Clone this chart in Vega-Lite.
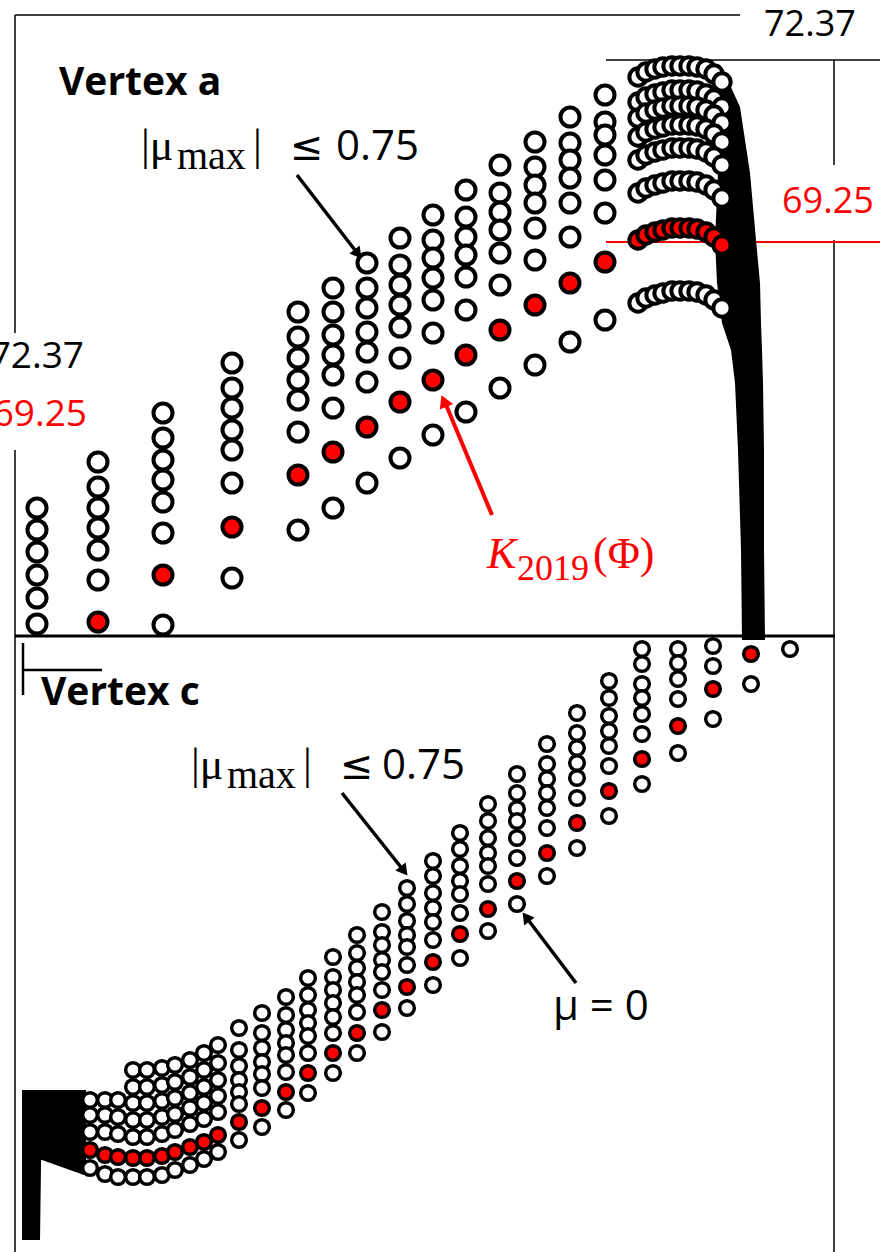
{
  "$schema": "https://vega.github.io/schema/vega-lite/v6.json",
  "width": 890,
  "height": 1252,
  "autosize": {"type": "none"},
  "padding": 0,
  "background": "white",
  "config": {"view": {"stroke": null}, "font": "Open Sans"},
  "datasets": {
    "lines": [
      {"x": 15, "y": 15, "x2": 740, "y2": 15, "kind": "frame"},
      {"x": 15, "y": 15, "x2": 15, "y2": 333, "kind": "frame"},
      {"x": 15, "y": 450, "x2": 15, "y2": 1252, "kind": "frame"},
      {"x": 834, "y": 60, "x2": 834, "y2": 165, "kind": "frame"},
      {"x": 834, "y": 240, "x2": 834, "y2": 1252, "kind": "frame"},
      {"x": 606, "y": 60, "x2": 880, "y2": 60, "kind": "frame"},
      {"x": 15, "y": 636, "x2": 835, "y2": 636, "kind": "thick"},
      {"x": 23, "y": 643, "x2": 23, "y2": 695, "kind": "marker"},
      {"x": 23, "y": 670, "x2": 102, "y2": 670, "kind": "marker"},
      {"x": 606, "y": 242, "x2": 880, "y2": 242, "kind": "red"}
    ],
    "blobs": [
      {"part": "column", "y": 85, "x": 722, "x2": 730},
      {"part": "column", "y": 107, "x": 724, "x2": 740},
      {"part": "column", "y": 173, "x": 718, "x2": 750},
      {"part": "column", "y": 240, "x": 715, "x2": 756},
      {"part": "column", "y": 283, "x": 717, "x2": 760},
      {"part": "column", "y": 323, "x": 722, "x2": 761},
      {"part": "column", "y": 350, "x": 731, "x2": 762},
      {"part": "column", "y": 383, "x": 735, "x2": 763},
      {"part": "column", "y": 450, "x": 738, "x2": 764},
      {"part": "column", "y": 550, "x": 741, "x2": 764},
      {"part": "column", "y": 640, "x": 742, "x2": 765},
      {"part": "block", "y": 1090, "x": 22, "x2": 86},
      {"part": "block", "y": 1156, "x": 22, "x2": 86},
      {"part": "block", "y": 1160, "x": 42, "x2": 86},
      {"part": "block", "y": 1175, "x": 84, "x2": 86},
      {"part": "stem", "y": 1090, "x": 22, "x2": 42},
      {"part": "stem", "y": 1240, "x": 22, "x2": 40}
    ],
    "top": [
      {"x": 37, "y": 508, "k": "open"}, {"x": 37, "y": 530, "k": "open"}, {"x": 37, "y": 552, "k": "open"}, {"x": 37, "y": 575, "k": "open"}, {"x": 37, "y": 598, "k": "open"}, {"x": 37, "y": 624, "k": "open"},
      {"x": 98, "y": 462, "k": "open"}, {"x": 98, "y": 487, "k": "open"}, {"x": 98, "y": 508, "k": "open"}, {"x": 98, "y": 528, "k": "open"}, {"x": 98, "y": 550, "k": "open"}, {"x": 98, "y": 580, "k": "open"}, {"x": 98, "y": 622, "k": "K2019"},
      {"x": 163, "y": 413, "k": "open"}, {"x": 163, "y": 438, "k": "open"}, {"x": 163, "y": 460, "k": "open"}, {"x": 163, "y": 480, "k": "open"}, {"x": 163, "y": 502, "k": "open"}, {"x": 163, "y": 533, "k": "open"}, {"x": 163, "y": 575, "k": "K2019"}, {"x": 163, "y": 625, "k": "open"},
      {"x": 232, "y": 363, "k": "open"}, {"x": 232, "y": 388, "k": "open"}, {"x": 232, "y": 408, "k": "open"}, {"x": 232, "y": 430, "k": "open"}, {"x": 232, "y": 450, "k": "open"}, {"x": 232, "y": 483, "k": "open"}, {"x": 232, "y": 527, "k": "K2019"}, {"x": 232, "y": 578, "k": "open"},
      {"x": 298, "y": 312, "k": "open"}, {"x": 298, "y": 337, "k": "open"}, {"x": 298, "y": 358, "k": "open"}, {"x": 298, "y": 380, "k": "open"}, {"x": 298, "y": 400, "k": "open"}, {"x": 298, "y": 432, "k": "open"}, {"x": 298, "y": 475, "k": "K2019"}, {"x": 298, "y": 530, "k": "open"},
      {"x": 333, "y": 288, "k": "open"}, {"x": 333, "y": 312, "k": "open"}, {"x": 333, "y": 335, "k": "open"}, {"x": 333, "y": 355, "k": "open"}, {"x": 333, "y": 375, "k": "open"}, {"x": 333, "y": 408, "k": "open"}, {"x": 333, "y": 452, "k": "K2019"}, {"x": 333, "y": 508, "k": "open"},
      {"x": 367, "y": 263, "k": "open"}, {"x": 367, "y": 288, "k": "open"}, {"x": 367, "y": 308, "k": "open"}, {"x": 367, "y": 332, "k": "open"}, {"x": 367, "y": 352, "k": "open"}, {"x": 367, "y": 382, "k": "open"}, {"x": 367, "y": 427, "k": "K2019"}, {"x": 367, "y": 483, "k": "open"},
      {"x": 400, "y": 238, "k": "open"}, {"x": 400, "y": 265, "k": "open"}, {"x": 400, "y": 285, "k": "open"}, {"x": 400, "y": 305, "k": "open"}, {"x": 400, "y": 327, "k": "open"}, {"x": 400, "y": 358, "k": "open"}, {"x": 400, "y": 402, "k": "K2019"}, {"x": 400, "y": 458, "k": "open"},
      {"x": 433, "y": 215, "k": "open"}, {"x": 433, "y": 240, "k": "open"}, {"x": 433, "y": 258, "k": "open"}, {"x": 433, "y": 278, "k": "open"}, {"x": 433, "y": 300, "k": "open"}, {"x": 433, "y": 333, "k": "open"}, {"x": 433, "y": 380, "k": "K2019"}, {"x": 433, "y": 435, "k": "open"},
      {"x": 466, "y": 190, "k": "open"}, {"x": 466, "y": 217, "k": "open"}, {"x": 466, "y": 237, "k": "open"}, {"x": 466, "y": 255, "k": "open"}, {"x": 466, "y": 277, "k": "open"}, {"x": 466, "y": 310, "k": "open"}, {"x": 466, "y": 355, "k": "K2019"}, {"x": 466, "y": 412, "k": "open"},
      {"x": 500, "y": 165, "k": "open"}, {"x": 500, "y": 193, "k": "open"}, {"x": 500, "y": 212, "k": "open"}, {"x": 500, "y": 230, "k": "open"}, {"x": 500, "y": 253, "k": "open"}, {"x": 500, "y": 285, "k": "open"}, {"x": 500, "y": 330, "k": "K2019"}, {"x": 500, "y": 388, "k": "open"},
      {"x": 535, "y": 142, "k": "open"}, {"x": 535, "y": 167, "k": "open"}, {"x": 535, "y": 185, "k": "open"}, {"x": 535, "y": 203, "k": "open"}, {"x": 535, "y": 228, "k": "open"}, {"x": 535, "y": 260, "k": "open"}, {"x": 535, "y": 305, "k": "K2019"}, {"x": 535, "y": 365, "k": "open"},
      {"x": 570, "y": 117, "k": "open"}, {"x": 570, "y": 143, "k": "open"}, {"x": 570, "y": 160, "k": "open"}, {"x": 570, "y": 178, "k": "open"}, {"x": 570, "y": 203, "k": "open"}, {"x": 570, "y": 237, "k": "open"}, {"x": 570, "y": 283, "k": "K2019"}, {"x": 570, "y": 342, "k": "open"},
      {"x": 605, "y": 95, "k": "open"}, {"x": 605, "y": 122, "k": "open"}, {"x": 605, "y": 135, "k": "open"}, {"x": 605, "y": 155, "k": "open"}, {"x": 605, "y": 180, "k": "open"}, {"x": 605, "y": 213, "k": "open"}, {"x": 605, "y": 262, "k": "K2019"}, {"x": 605, "y": 320, "k": "open"}
    ],
    "arcs": [
      {"x": 638, "y": 77, "k": "open"}, {"x": 646, "y": 72, "k": "open"}, {"x": 655, "y": 69, "k": "open"}, {"x": 663, "y": 67, "k": "open"}, {"x": 672, "y": 66, "k": "open"}, {"x": 680, "y": 66, "k": "open"}, {"x": 689, "y": 66, "k": "open"}, {"x": 697, "y": 67, "k": "open"}, {"x": 706, "y": 69, "k": "open"}, {"x": 714, "y": 74, "k": "open"}, {"x": 722, "y": 82, "k": "open"},
      {"x": 638, "y": 102, "k": "open"}, {"x": 646, "y": 97, "k": "open"}, {"x": 655, "y": 94, "k": "open"}, {"x": 663, "y": 92, "k": "open"}, {"x": 672, "y": 90, "k": "open"}, {"x": 680, "y": 90, "k": "open"}, {"x": 689, "y": 90, "k": "open"}, {"x": 697, "y": 91, "k": "open"}, {"x": 706, "y": 94, "k": "open"}, {"x": 714, "y": 99, "k": "open"}, {"x": 722, "y": 107, "k": "open"},
      {"x": 638, "y": 118, "k": "open"}, {"x": 646, "y": 113, "k": "open"}, {"x": 655, "y": 110, "k": "open"}, {"x": 663, "y": 108, "k": "open"}, {"x": 672, "y": 106, "k": "open"}, {"x": 680, "y": 106, "k": "open"}, {"x": 689, "y": 106, "k": "open"}, {"x": 697, "y": 107, "k": "open"}, {"x": 706, "y": 110, "k": "open"}, {"x": 714, "y": 115, "k": "open"}, {"x": 722, "y": 123, "k": "open"},
      {"x": 638, "y": 137, "k": "open"}, {"x": 646, "y": 132, "k": "open"}, {"x": 655, "y": 129, "k": "open"}, {"x": 663, "y": 127, "k": "open"}, {"x": 672, "y": 125, "k": "open"}, {"x": 680, "y": 125, "k": "open"}, {"x": 689, "y": 125, "k": "open"}, {"x": 697, "y": 126, "k": "open"}, {"x": 706, "y": 129, "k": "open"}, {"x": 714, "y": 134, "k": "open"}, {"x": 722, "y": 142, "k": "open"},
      {"x": 638, "y": 160, "k": "open"}, {"x": 646, "y": 155, "k": "open"}, {"x": 655, "y": 152, "k": "open"}, {"x": 663, "y": 150, "k": "open"}, {"x": 672, "y": 148, "k": "open"}, {"x": 680, "y": 148, "k": "open"}, {"x": 689, "y": 148, "k": "open"}, {"x": 697, "y": 149, "k": "open"}, {"x": 706, "y": 152, "k": "open"}, {"x": 714, "y": 157, "k": "open"}, {"x": 722, "y": 165, "k": "open"},
      {"x": 638, "y": 193, "k": "open"}, {"x": 646, "y": 188, "k": "open"}, {"x": 655, "y": 185, "k": "open"}, {"x": 663, "y": 183, "k": "open"}, {"x": 672, "y": 181, "k": "open"}, {"x": 680, "y": 181, "k": "open"}, {"x": 689, "y": 181, "k": "open"}, {"x": 697, "y": 182, "k": "open"}, {"x": 706, "y": 185, "k": "open"}, {"x": 714, "y": 190, "k": "open"}, {"x": 722, "y": 198, "k": "open"},
      {"x": 638, "y": 240, "k": "K2019"}, {"x": 646, "y": 235, "k": "K2019"}, {"x": 655, "y": 232, "k": "K2019"}, {"x": 663, "y": 230, "k": "K2019"}, {"x": 672, "y": 228, "k": "K2019"}, {"x": 680, "y": 228, "k": "K2019"}, {"x": 689, "y": 228, "k": "K2019"}, {"x": 697, "y": 229, "k": "K2019"}, {"x": 706, "y": 232, "k": "K2019"}, {"x": 714, "y": 237, "k": "K2019"}, {"x": 722, "y": 245, "k": "K2019"},
      {"x": 638, "y": 303, "k": "open"}, {"x": 646, "y": 298, "k": "open"}, {"x": 655, "y": 295, "k": "open"}, {"x": 663, "y": 293, "k": "open"}, {"x": 672, "y": 291, "k": "open"}, {"x": 680, "y": 291, "k": "open"}, {"x": 689, "y": 291, "k": "open"}, {"x": 697, "y": 292, "k": "open"}, {"x": 706, "y": 295, "k": "open"}, {"x": 714, "y": 300, "k": "open"}, {"x": 722, "y": 308, "k": "open"}
    ],
    "bottom": [
      {"x": 90, "y": 1100, "k": "open"}, {"x": 90, "y": 1115, "k": "open"}, {"x": 90, "y": 1132, "k": "open"}, {"x": 90, "y": 1150, "k": "K2019"}, {"x": 90, "y": 1168, "k": "open"},
      {"x": 105, "y": 1100, "k": "open"}, {"x": 105, "y": 1115, "k": "open"}, {"x": 105, "y": 1132, "k": "open"}, {"x": 105, "y": 1155, "k": "K2019"}, {"x": 105, "y": 1174, "k": "open"},
      {"x": 118, "y": 1100, "k": "open"}, {"x": 118, "y": 1117, "k": "open"}, {"x": 118, "y": 1134, "k": "open"}, {"x": 118, "y": 1157, "k": "K2019"}, {"x": 118, "y": 1177, "k": "open"},
      {"x": 133, "y": 1070, "k": "open"}, {"x": 133, "y": 1087, "k": "open"}, {"x": 133, "y": 1103, "k": "open"}, {"x": 133, "y": 1120, "k": "open"}, {"x": 133, "y": 1137, "k": "open"}, {"x": 133, "y": 1158, "k": "K2019"}, {"x": 133, "y": 1177, "k": "open"},
      {"x": 147, "y": 1070, "k": "open"}, {"x": 147, "y": 1087, "k": "open"}, {"x": 147, "y": 1103, "k": "open"}, {"x": 147, "y": 1120, "k": "open"}, {"x": 147, "y": 1137, "k": "open"}, {"x": 147, "y": 1158, "k": "K2019"}, {"x": 147, "y": 1177, "k": "open"},
      {"x": 162, "y": 1068, "k": "open"}, {"x": 162, "y": 1085, "k": "open"}, {"x": 162, "y": 1101, "k": "open"}, {"x": 162, "y": 1117, "k": "open"}, {"x": 162, "y": 1134, "k": "open"}, {"x": 162, "y": 1156, "k": "K2019"}, {"x": 162, "y": 1175, "k": "open"},
      {"x": 175, "y": 1065, "k": "open"}, {"x": 175, "y": 1082, "k": "open"}, {"x": 175, "y": 1098, "k": "open"}, {"x": 175, "y": 1114, "k": "open"}, {"x": 175, "y": 1130, "k": "open"}, {"x": 175, "y": 1152, "k": "K2019"}, {"x": 175, "y": 1170, "k": "open"},
      {"x": 190, "y": 1060, "k": "open"}, {"x": 190, "y": 1077, "k": "open"}, {"x": 190, "y": 1093, "k": "open"}, {"x": 190, "y": 1108, "k": "open"}, {"x": 190, "y": 1124, "k": "open"}, {"x": 190, "y": 1147, "k": "K2019"}, {"x": 190, "y": 1165, "k": "open"},
      {"x": 204, "y": 1053, "k": "open"}, {"x": 204, "y": 1070, "k": "open"}, {"x": 204, "y": 1087, "k": "open"}, {"x": 204, "y": 1103, "k": "open"}, {"x": 204, "y": 1119, "k": "open"}, {"x": 204, "y": 1142, "k": "K2019"}, {"x": 204, "y": 1159, "k": "open"},
      {"x": 218, "y": 1045, "k": "open"}, {"x": 218, "y": 1063, "k": "open"}, {"x": 218, "y": 1080, "k": "open"}, {"x": 218, "y": 1096, "k": "open"}, {"x": 218, "y": 1112, "k": "open"}, {"x": 218, "y": 1135, "k": "K2019"}, {"x": 218, "y": 1152, "k": "open"},
      {"x": 239, "y": 1028, "k": "open"}, {"x": 239, "y": 1050, "k": "open"}, {"x": 239, "y": 1066, "k": "open"}, {"x": 239, "y": 1080, "k": "open"}, {"x": 239, "y": 1092, "k": "open"}, {"x": 239, "y": 1104, "k": "open"}, {"x": 239, "y": 1122, "k": "K2019"}, {"x": 239, "y": 1140, "k": "open"},
      {"x": 262, "y": 1013, "k": "open"}, {"x": 262, "y": 1033, "k": "open"}, {"x": 262, "y": 1048, "k": "open"}, {"x": 262, "y": 1062, "k": "open"}, {"x": 262, "y": 1074, "k": "open"}, {"x": 262, "y": 1088, "k": "open"}, {"x": 262, "y": 1108, "k": "K2019"}, {"x": 262, "y": 1127, "k": "open"},
      {"x": 286, "y": 997, "k": "open"}, {"x": 286, "y": 1015, "k": "open"}, {"x": 286, "y": 1030, "k": "open"}, {"x": 286, "y": 1043, "k": "open"}, {"x": 286, "y": 1055, "k": "open"}, {"x": 286, "y": 1072, "k": "open"}, {"x": 286, "y": 1092, "k": "K2019"}, {"x": 286, "y": 1110, "k": "open"},
      {"x": 308, "y": 978, "k": "open"}, {"x": 308, "y": 995, "k": "open"}, {"x": 308, "y": 1010, "k": "open"}, {"x": 308, "y": 1023, "k": "open"}, {"x": 308, "y": 1036, "k": "open"}, {"x": 308, "y": 1053, "k": "open"}, {"x": 308, "y": 1073, "k": "K2019"}, {"x": 308, "y": 1093, "k": "open"},
      {"x": 333, "y": 957, "k": "open"}, {"x": 333, "y": 977, "k": "open"}, {"x": 333, "y": 990, "k": "open"}, {"x": 333, "y": 1003, "k": "open"}, {"x": 333, "y": 1017, "k": "open"}, {"x": 333, "y": 1033, "k": "open"}, {"x": 333, "y": 1053, "k": "K2019"}, {"x": 333, "y": 1073, "k": "open"},
      {"x": 357, "y": 935, "k": "open"}, {"x": 357, "y": 953, "k": "open"}, {"x": 357, "y": 968, "k": "open"}, {"x": 357, "y": 982, "k": "open"}, {"x": 357, "y": 995, "k": "open"}, {"x": 357, "y": 1012, "k": "open"}, {"x": 357, "y": 1033, "k": "K2019"}, {"x": 357, "y": 1053, "k": "open"},
      {"x": 382, "y": 912, "k": "open"}, {"x": 382, "y": 932, "k": "open"}, {"x": 382, "y": 945, "k": "open"}, {"x": 382, "y": 960, "k": "open"}, {"x": 382, "y": 972, "k": "open"}, {"x": 382, "y": 990, "k": "open"}, {"x": 382, "y": 1010, "k": "K2019"}, {"x": 382, "y": 1032, "k": "open"},
      {"x": 407, "y": 888, "k": "open"}, {"x": 407, "y": 904, "k": "open"}, {"x": 407, "y": 921, "k": "open"}, {"x": 407, "y": 935, "k": "open"}, {"x": 407, "y": 947, "k": "open"}, {"x": 407, "y": 965, "k": "open"}, {"x": 407, "y": 987, "k": "K2019"}, {"x": 407, "y": 1008, "k": "open"},
      {"x": 433, "y": 861, "k": "open"}, {"x": 433, "y": 876, "k": "open"}, {"x": 433, "y": 893, "k": "open"}, {"x": 433, "y": 908, "k": "open"}, {"x": 433, "y": 922, "k": "open"}, {"x": 433, "y": 940, "k": "open"}, {"x": 433, "y": 962, "k": "K2019"}, {"x": 433, "y": 985, "k": "open"},
      {"x": 460, "y": 833, "k": "open"}, {"x": 460, "y": 849, "k": "open"}, {"x": 460, "y": 866, "k": "open"}, {"x": 460, "y": 881, "k": "open"}, {"x": 460, "y": 894, "k": "open"}, {"x": 460, "y": 913, "k": "open"}, {"x": 460, "y": 934, "k": "K2019"}, {"x": 460, "y": 958, "k": "open"},
      {"x": 488, "y": 804, "k": "open"}, {"x": 488, "y": 821, "k": "open"}, {"x": 488, "y": 838, "k": "open"}, {"x": 488, "y": 853, "k": "open"}, {"x": 488, "y": 866, "k": "open"}, {"x": 488, "y": 884, "k": "open"}, {"x": 488, "y": 909, "k": "K2019"}, {"x": 488, "y": 931, "k": "open"},
      {"x": 517, "y": 774, "k": "open"}, {"x": 517, "y": 793, "k": "open"}, {"x": 517, "y": 809, "k": "open"}, {"x": 517, "y": 821, "k": "open"}, {"x": 517, "y": 838, "k": "open"}, {"x": 517, "y": 858, "k": "open"}, {"x": 517, "y": 881, "k": "K2019"}, {"x": 517, "y": 904, "k": "open"},
      {"x": 547, "y": 744, "k": "open"}, {"x": 547, "y": 764, "k": "open"}, {"x": 547, "y": 779, "k": "open"}, {"x": 547, "y": 793, "k": "open"}, {"x": 547, "y": 808, "k": "open"}, {"x": 547, "y": 828, "k": "open"}, {"x": 547, "y": 853, "k": "K2019"}, {"x": 547, "y": 876, "k": "open"},
      {"x": 577, "y": 713, "k": "open"}, {"x": 577, "y": 733, "k": "open"}, {"x": 577, "y": 748, "k": "open"}, {"x": 577, "y": 763, "k": "open"}, {"x": 577, "y": 778, "k": "open"}, {"x": 577, "y": 798, "k": "open"}, {"x": 577, "y": 823, "k": "K2019"}, {"x": 577, "y": 848, "k": "open"},
      {"x": 609, "y": 681, "k": "open"}, {"x": 609, "y": 698, "k": "open"}, {"x": 609, "y": 716, "k": "open"}, {"x": 609, "y": 731, "k": "open"}, {"x": 609, "y": 746, "k": "open"}, {"x": 609, "y": 766, "k": "open"}, {"x": 609, "y": 791, "k": "K2019"}, {"x": 609, "y": 816, "k": "open"},
      {"x": 642, "y": 649, "k": "open"}, {"x": 642, "y": 664, "k": "open"}, {"x": 642, "y": 684, "k": "open"}, {"x": 642, "y": 698, "k": "open"}, {"x": 642, "y": 714, "k": "open"}, {"x": 642, "y": 734, "k": "open"}, {"x": 642, "y": 759, "k": "K2019"}, {"x": 642, "y": 784, "k": "open"},
      {"x": 678, "y": 649, "k": "open"}, {"x": 678, "y": 663, "k": "open"}, {"x": 678, "y": 679, "k": "open"}, {"x": 678, "y": 699, "k": "open"}, {"x": 678, "y": 726, "k": "K2019"}, {"x": 678, "y": 753, "k": "open"},
      {"x": 713, "y": 646, "k": "open"}, {"x": 713, "y": 666, "k": "open"}, {"x": 713, "y": 689, "k": "K2019"}, {"x": 713, "y": 719, "k": "open"},
      {"x": 751, "y": 654, "k": "K2019"}, {"x": 751, "y": 684, "k": "open"},
      {"x": 790, "y": 649, "k": "open"}
    ],
    "shafts": [
      {"x": 297, "y": 175, "x2": 358, "y2": 254, "arrow": "a1"},
      {"x": 342, "y": 793, "x2": 404, "y2": 871, "arrow": "b1"},
      {"x": 576, "y": 983, "x2": 526, "y2": 917, "arrow": "b2"},
      {"x": 492, "y": 515, "x2": 444, "y2": 400, "arrow": "red"}
    ],
    "heads": [
      {"x": 358, "y": 254, "arrow": "a1"},
      {"x": 404, "y": 871, "arrow": "b1"},
      {"x": 526, "y": 917, "arrow": "b2"},
      {"x": 444, "y": 401, "arrow": "red"}
    ],
    "labels": [
      {"x": 59, "y": 95, "t": "Vertex a", "role": "title"},
      {"x": 41, "y": 705, "t": "Vertex c", "role": "title"},
      {"x": 764, "y": 36, "t": "72.37", "role": "num"},
      {"x": 782, "y": 213, "t": "69.25", "role": "numred"},
      {"x": 84, "y": 368, "t": "72.37", "role": "numL"},
      {"x": 87, "y": 426, "t": "69.25", "role": "numLred"},
      {"x": 141, "y": 160, "t": "|μ", "role": "mu"},
      {"x": 177, "y": 169, "t": "max", "role": "sub"},
      {"x": 253, "y": 160, "t": "|", "role": "mu"},
      {"x": 290, "y": 160, "t": "≤", "role": "leq"},
      {"x": 336, "y": 160, "t": "0.75", "role": "sans"},
      {"x": 191, "y": 779, "t": "|μ", "role": "mu"},
      {"x": 227, "y": 788, "t": "max", "role": "sub"},
      {"x": 303, "y": 779, "t": "|", "role": "mu"},
      {"x": 340, "y": 779, "t": "≤", "role": "leq"},
      {"x": 382, "y": 779, "t": "0.75", "role": "sans"},
      {"x": 553, "y": 1020, "t": "μ = 0", "role": "sans"},
      {"x": 487, "y": 568, "t": "K", "role": "kred"},
      {"x": 517, "y": 580, "t": "2019", "role": "subred"},
      {"x": 593, "y": 568, "t": "(Φ)", "role": "phired"}
    ]
  },
  "encoding": {
    "x": {"field": "x", "type": "quantitative", "scale": {"domain": [0, 890], "nice": false, "zero": false}, "axis": null},
    "y": {"field": "y", "type": "quantitative", "scale": {"domain": [0, 1252], "nice": false, "zero": false, "reverse": true}, "axis": null}
  },
  "layer": [
    {
      "data": {"name": "lines"},
      "transform": [{"filter": "datum.kind === 'frame'"}],
      "mark": {"type": "rule", "color": "black", "strokeWidth": 1.5},
      "encoding": {"x2": {"field": "x2"}, "y2": {"field": "y2"}}
    },
    {
      "data": {"name": "lines"},
      "transform": [{"filter": "datum.kind === 'red'"}],
      "mark": {"type": "rule", "color": "#ff0000", "strokeWidth": 2},
      "encoding": {"x2": {"field": "x2"}, "y2": {"field": "y2"}}
    },
    {
      "data": {"name": "blobs"},
      "mark": {"type": "area", "orient": "horizontal", "color": "black", "opacity": 1},
      "encoding": {"x2": {"field": "x2"}, "detail": {"field": "part"}}
    },
    {
      "data": {"name": "top"},
      "mark": {"type": "point", "shape": "circle", "filled": true, "stroke": "black", "strokeWidth": 4, "size": 361, "opacity": 1},
      "encoding": {"fill": {"field": "k", "type": "nominal", "scale": {"domain": ["open", "K2019"], "range": ["white", "#ff0000"]}, "legend": null}}
    },
    {
      "data": {"name": "arcs"},
      "mark": {"type": "point", "shape": "circle", "filled": true, "stroke": "black", "strokeWidth": 4, "size": 300, "opacity": 1},
      "encoding": {"fill": {"field": "k", "type": "nominal", "scale": {"domain": ["open", "K2019"], "range": ["white", "#ff0000"]}, "legend": null}}
    },
    {
      "data": {"name": "bottom"},
      "mark": {"type": "point", "shape": "circle", "filled": true, "stroke": "black", "strokeWidth": 3.5, "size": 215, "opacity": 1},
      "encoding": {"fill": {"field": "k", "type": "nominal", "scale": {"domain": ["open", "K2019"], "range": ["white", "#ff0000"]}, "legend": null}}
    },
    {
      "data": {"name": "lines"},
      "transform": [{"filter": "datum.kind === 'thick'"}],
      "mark": {"type": "rule", "color": "black", "strokeWidth": 3},
      "encoding": {"x2": {"field": "x2"}, "y2": {"field": "y2"}}
    },
    {
      "data": {"name": "lines"},
      "transform": [{"filter": "datum.kind === 'marker'"}],
      "mark": {"type": "rule", "color": "black", "strokeWidth": 2.5},
      "encoding": {"x2": {"field": "x2"}, "y2": {"field": "y2"}}
    },
    {
      "data": {"name": "shafts"},
      "transform": [{"filter": "datum.arrow !== 'red'"}],
      "mark": {"type": "rule", "color": "black", "strokeWidth": 3.5},
      "encoding": {"x2": {"field": "x2"}, "y2": {"field": "y2"}}
    },
    {
      "data": {"name": "shafts"},
      "transform": [{"filter": "datum.arrow === 'red'"}],
      "mark": {"type": "rule", "color": "#ff0000", "strokeWidth": 4},
      "encoding": {"x2": {"field": "x2"}, "y2": {"field": "y2"}}
    },
    {
      "data": {"name": "heads"},
      "transform": [{"filter": "datum.arrow === 'a1' || datum.arrow === 'b1'"}],
      "mark": {"type": "point", "shape": "triangle-up", "filled": true, "color": "black", "size": 170, "angle": 142, "opacity": 1}
    },
    {
      "data": {"name": "heads"},
      "transform": [{"filter": "datum.arrow === 'b2'"}],
      "mark": {"type": "point", "shape": "triangle-up", "filled": true, "color": "black", "size": 170, "angle": -37, "opacity": 1}
    },
    {
      "data": {"name": "heads"},
      "transform": [{"filter": "datum.arrow === 'red'"}],
      "mark": {"type": "point", "shape": "triangle-up", "filled": true, "color": "#ff0000", "size": 210, "angle": -23, "opacity": 1}
    },
    {
      "data": {"name": "labels"},
      "transform": [{"filter": "datum.role === 'title'"}],
      "mark": {"type": "text", "align": "left", "baseline": "alphabetic", "font": "Open Sans", "fontWeight": "bold", "fontSize": 39, "color": "black"},
      "encoding": {"text": {"field": "t"}}
    },
    {
      "data": {"name": "labels"},
      "transform": [{"filter": "datum.role === 'num'"}],
      "mark": {"type": "text", "align": "left", "baseline": "alphabetic", "font": "Open Sans", "fontSize": 36, "color": "black"},
      "encoding": {"text": {"field": "t"}}
    },
    {
      "data": {"name": "labels"},
      "transform": [{"filter": "datum.role === 'numred'"}],
      "mark": {"type": "text", "align": "left", "baseline": "alphabetic", "font": "Open Sans", "fontSize": 36, "color": "#ff0000"},
      "encoding": {"text": {"field": "t"}}
    },
    {
      "data": {"name": "labels"},
      "transform": [{"filter": "datum.role === 'numL'"}],
      "mark": {"type": "text", "align": "right", "baseline": "alphabetic", "font": "Open Sans", "fontSize": 37, "color": "black"},
      "encoding": {"text": {"field": "t"}}
    },
    {
      "data": {"name": "labels"},
      "transform": [{"filter": "datum.role === 'numLred'"}],
      "mark": {"type": "text", "align": "right", "baseline": "alphabetic", "font": "Open Sans", "fontSize": 37, "color": "#ff0000"},
      "encoding": {"text": {"field": "t"}}
    },
    {
      "data": {"name": "labels"},
      "transform": [{"filter": "datum.role === 'mu'"}],
      "mark": {"type": "text", "align": "left", "baseline": "alphabetic", "font": "Liberation Serif", "fontSize": 44, "color": "black"},
      "encoding": {"text": {"field": "t"}}
    },
    {
      "data": {"name": "labels"},
      "transform": [{"filter": "datum.role === 'sub'"}],
      "mark": {"type": "text", "align": "left", "baseline": "alphabetic", "font": "Liberation Serif", "fontSize": 40, "color": "black"},
      "encoding": {"text": {"field": "t"}}
    },
    {
      "data": {"name": "labels"},
      "transform": [{"filter": "datum.role === 'leq'"}],
      "mark": {"type": "text", "align": "left", "baseline": "alphabetic", "font": "DejaVu Sans", "fontSize": 40, "color": "black"},
      "encoding": {"text": {"field": "t"}}
    },
    {
      "data": {"name": "labels"},
      "transform": [{"filter": "datum.role === 'sans'"}],
      "mark": {"type": "text", "align": "left", "baseline": "alphabetic", "font": "Open Sans", "fontSize": 42, "color": "black"},
      "encoding": {"text": {"field": "t"}}
    },
    {
      "data": {"name": "labels"},
      "transform": [{"filter": "datum.role === 'kred'"}],
      "mark": {"type": "text", "align": "left", "baseline": "alphabetic", "font": "Liberation Serif", "fontStyle": "italic", "fontSize": 44, "color": "#ff0000"},
      "encoding": {"text": {"field": "t"}}
    },
    {
      "data": {"name": "labels"},
      "transform": [{"filter": "datum.role === 'subred'"}],
      "mark": {"type": "text", "align": "left", "baseline": "alphabetic", "font": "Liberation Serif", "fontSize": 36, "color": "#ff0000"},
      "encoding": {"text": {"field": "t"}}
    },
    {
      "data": {"name": "labels"},
      "transform": [{"filter": "datum.role === 'phired'"}],
      "mark": {"type": "text", "align": "left", "baseline": "alphabetic", "font": "Liberation Serif", "fontSize": 44, "color": "#ff0000"},
      "encoding": {"text": {"field": "t"}}
    }
  ]
}
